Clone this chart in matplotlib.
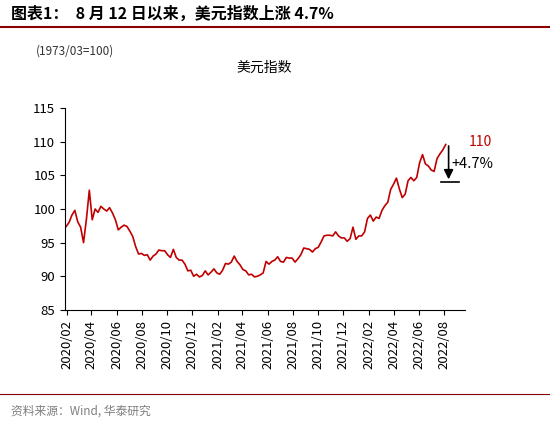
import matplotlib
matplotlib.use("Agg")
import matplotlib.pyplot as plt
import matplotlib.dates as mdates
import pandas as pd

plt.rcParams['font.family'] = ['Noto Sans CJK SC', 'DejaVu Sans']

values = [97.4, 98.0, 99.1, 99.8, 98.1, 97.3, 95.0, 98.5, 102.8, 98.4,
          100.0, 99.5, 100.4, 100.0, 99.7, 100.2, 99.4, 98.4,
          96.9, 97.3, 97.6, 97.4, 96.7, 95.9, 94.4, 93.3,
          93.4, 93.1, 93.2, 92.4, 93.0, 93.3, 93.9, 93.8,
          93.8, 93.2, 92.8, 94.0, 92.8, 92.4, 92.4, 91.8,
          90.8, 90.9, 90.0, 90.3, 89.9,
          90.1, 90.8, 90.2, 90.6, 91.1, 90.5, 90.3, 90.9,
          91.9, 91.8, 92.1, 93.0, 92.2, 91.7, 91.0, 90.8,
          90.2, 90.3, 89.9, 90.0, 90.2, 90.5, 92.2, 91.8,
          92.2, 92.4, 92.9, 92.2, 92.1, 92.8, 92.7, 92.7,
          92.1, 92.6, 93.2, 94.2, 94.1, 94.0, 93.6, 94.1,
          94.3, 95.1, 96.0, 96.1, 96.1, 96.0, 96.6, 96.0, 95.7,
          95.7, 95.2, 95.6, 97.3, 95.5, 96.0, 96.0, 96.6,
          98.6, 99.1, 98.2, 98.8, 98.6, 99.8, 100.5, 101.0, 102.9,
          103.7, 104.6, 103.0, 101.7, 102.2, 104.2, 104.7, 104.2, 104.7,
          106.9, 108.1, 106.7, 106.4, 105.8, 105.6, 107.5, 108.2, 108.8, 109.6]
dates = pd.date_range("2020-01-31", periods=len(values), freq="7D")

fig = plt.figure(figsize=(5.5, 4.21), dpi=100)
ax = fig.add_axes([0.118, 0.264, 0.727, 0.479])
ax.plot(dates, values, color="#C00000", lw=1.2)
ax.set_ylim(85, 115)
ax.set_yticks(range(85, 116, 5))
ax.set_xlim(pd.Timestamp("2020-01-28"), pd.Timestamp("2022-09-20"))
ax.xaxis.set_major_locator(mdates.MonthLocator(bymonth=[2, 4, 6, 8, 10, 12]))
ax.xaxis.set_major_formatter(mdates.DateFormatter("%Y/%m"))
plt.setp(ax.get_xticklabels(), rotation=90)
ax.tick_params(labelsize=9.5, direction='out')
ax.spines['top'].set_visible(False)
ax.spines['right'].set_visible(False)

ax.annotate("", xy=(pd.Timestamp("2022-08-12"), 104.0), xytext=(pd.Timestamp("2022-08-12"), 109.8),
            arrowprops=dict(arrowstyle="-|>", color="black", lw=1.2, mutation_scale=14))
ax.plot([pd.Timestamp("2022-07-25"), pd.Timestamp("2022-09-05")], [104.0, 104.0], color="black", lw=1.2)
ax.text(pd.Timestamp("2022-08-20"), 106.7, "+4.7%", fontsize=10.5, va="center")
ax.text(pd.Timestamp("2022-09-30"), 110.0, "110", color="#C00000", fontsize=10, va="center")

fig.text(0.48, 0.83, "美元指数", fontsize=10, ha="center")
fig.text(0.065, 0.87, "(1973/03=100)", fontsize=8.5, color="#333333")
fig.text(0.02, 0.955, "图表1：  8 月 12 日以来，美元指数上涨 4.7%", fontsize=11.5, fontweight="bold")
fig.add_artist(plt.Line2D([0.0, 1.0], [0.935, 0.935], color="#8B0000", lw=1.5))
fig.add_artist(plt.Line2D([0.0, 1.0], [0.065, 0.065], color="#8B0000", lw=0.8))
fig.text(0.02, 0.015, "资料来源：Wind, 华泰研究", fontsize=8.5, color="#7F7F7F")
fig.savefig("out.png", dpi=100)
